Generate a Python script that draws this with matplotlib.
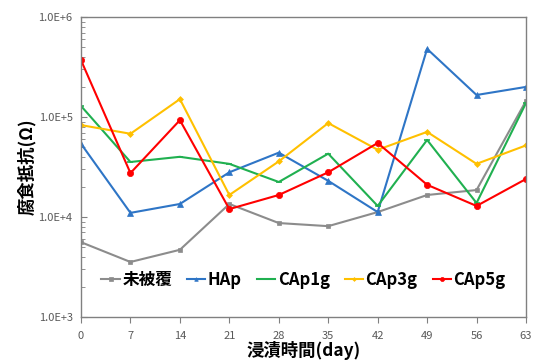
import numpy as np
import matplotlib.pyplot as plt
from matplotlib.ticker import LogLocator, FixedLocator, FuncFormatter, NullFormatter

plt.rcParams['font.family'] = ['Noto Sans CJK JP', 'DejaVu Sans']

days = [0, 7, 14, 21, 28, 35, 42, 49, 56, 63]
uncoated = [5.6e3, 3.55e3, 4.7e3, 1.35e4, 8.7e3, 8.1e3, 1.12e4, 1.66e4, 1.86e4, 1.45e5]
hap = [5.4e4, 1.1e4, 1.35e4, 2.8e4, 4.4e4, 2.3e4, 1.12e4, 4.8e5, 1.66e5, 2.0e5]
cap1g = [1.29e5, 3.55e4, 4.0e4, 3.4e4, 2.24e4, 4.3e4, 1.29e4, 5.9e4, 1.38e4, 1.38e5]
cap3g = [8.3e4, 6.8e4, 1.51e5, 1.66e4, 3.6e4, 8.7e4, 4.7e4, 7.1e4, 3.4e4, 5.2e4]
cap5g = [3.7e5, 2.75e4, 9.3e4, 1.2e4, 1.66e4, 2.8e4, 5.5e4, 2.1e4, 1.29e4, 2.4e4]

series = [
    ('未被覆', uncoated, '#8c8c8c', 's', 3.5),
    ('HAp', hap, '#2e75c6', '^', 4),
    ('CAp1g', cap1g, '#20b050', '_', 4),
    ('CAp3g', cap3g, '#ffc000', 'D', 3),
    ('CAp5g', cap5g, '#ff0000', 'o', 4.5),
]

fig = plt.figure(figsize=(5.34, 3.62), dpi=100)
ax = fig.add_axes([0.1517, 0.1243, 0.8333, 0.8287])

for name, vals, col, mk, ms in series:
    ax.plot(days, vals, color=col, marker=mk, markersize=ms, lw=1.5,
            markeredgewidth=1.2 if mk == '_' else 0.5, label=name)

ax.set_yscale('log')
ax.set_ylim(1e3, 1e6)
ax.set_xlim(0, 63)
ax.xaxis.set_major_locator(FixedLocator(days))
ax.yaxis.set_major_locator(LogLocator(base=10, numticks=10))
ax.yaxis.set_minor_locator(LogLocator(base=10, subs=np.arange(2, 10), numticks=10))
ax.yaxis.set_minor_formatter(NullFormatter())
ax.yaxis.set_major_formatter(FuncFormatter(lambda v, p: '1.0E+%d' % round(np.log10(v))))

for s in ax.spines.values():
    s.set_color('#808080')
    s.set_linewidth(1.0)
ax.tick_params(axis='x', direction='out', length=4, color='#808080',
               labelsize=8, labelcolor='#595959', pad=6)
ax.tick_params(axis='y', which='major', direction='in', length=4, color='#808080',
               labelsize=8, labelcolor='#595959', pad=6)
ax.tick_params(axis='y', which='minor', direction='in', length=3, color='#808080')

ax.set_xlabel('浸漬時間(day)', fontsize=12.5, fontweight='bold', labelpad=0)
ax.set_ylabel('腐食抵抗(Ω)', fontsize=12.5, fontweight='bold', labelpad=2)

ax.legend(loc='center', bbox_to_anchor=(0.5, 0.125), ncol=5, frameon=False,
          prop={'weight': 'bold', 'size': 12}, markerscale=0.65,
          handlelength=1.1, handletextpad=0.15, columnspacing=0.9,
          borderpad=0)

fig.savefig('out.png', dpi=100)
